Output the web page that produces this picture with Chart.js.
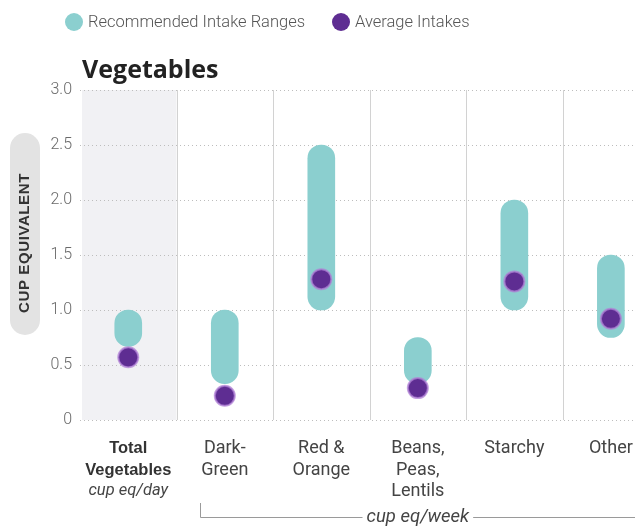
<!DOCTYPE html>
<html>
<head>
<meta charset="utf-8">
<script src="https://cdn.jsdelivr.net/npm/chart.js@4.4.1/dist/chart.umd.min.js"></script>
<style>
  html, body { margin: 0; padding: 0; background: #fff; overflow: hidden; }
  canvas { display: block; }
</style>
</head>
<body>
<canvas id="veg" width="635" height="529"></canvas>
<script>
// Vegetable subgroups: recommended ranges vs. average intakes
const categories = ['Total Vegetables', 'Dark-Green', 'Red & Orange', 'Beans, Peas, Lentils', 'Starchy', 'Other'];
const labelLines = [['Total', 'Vegetables'], ['Dark-', 'Green'], ['Red &', 'Orange'], ['Beans,', 'Peas,', 'Lentils'], ['Starchy'], ['Other']];
const rangeLow = [0.67, 0.33, 1.0, 0.33, 1.0, 0.75];
const rangeHigh = [1.0, 1.0, 2.5, 0.75, 2.0, 1.5];
const averageIntake = [0.57, 0.22, 1.28, 0.29, 1.26, 0.92];
const yTickValues = [0, 0.5, 1.0, 1.5, 2.0, 2.5, 3.0];
const dailyUnit = 'cup eq/day';
const weeklyUnit = 'cup eq/week';

const TEAL = '#8bcfcf';
const PURPLE = '#5e2d92';

// everything that isn't a data mark: band, pill label, separators, legend, x labels
const decor = {
  id: 'decor',
  beforeDraw(chart) {
    const { ctx, chartArea: a, scales: { x } } = chart;
    ctx.save();
    ctx.fillStyle = '#f1f1f4';
    const bandRight = x.getPixelForValue(0.5);
    ctx.fillRect(a.left + 2, a.top, bandRight - a.left - 2, a.bottom - a.top);

    // y axis title in a grey pill
    ctx.fillStyle = '#e3e3e3';
    ctx.beginPath();
    ctx.roundRect(10, 133, 30, 202, 15);
    ctx.fill();
    ctx.translate(25, 243);
    ctx.rotate(-Math.PI / 2);
    ctx.fillStyle = '#333';
    ctx.font = 'bold 15px "Liberation Sans", Arial, sans-serif';
    ctx.letterSpacing = '0.6px';
    ctx.textAlign = 'center';
    ctx.textBaseline = 'middle';
    ctx.fillText('CUP EQUIVALENT', 0, 0);
    ctx.restore();
  },
  beforeDatasetsDraw(chart) {
    const { ctx, chartArea: a, scales: { x } } = chart;
    ctx.save();
    ctx.strokeStyle = '#d2d2d2';
    ctx.lineWidth = 1;
    for (let i = 0; i < categories.length - 1; i++) {
      const px = Math.round(x.getPixelForValue(i + 0.5)) + 0.5;
      ctx.beginPath();
      ctx.moveTo(px, a.top);
      ctx.lineTo(px, a.bottom);
      ctx.stroke();
    }
    ctx.restore();
  },
  afterDraw(chart) {
    const { ctx, scales: { x } } = chart;
    ctx.save();

    // legend
    ctx.font = '300 16.5px Roboto, sans-serif';
    ctx.textBaseline = 'middle';
    ctx.textAlign = 'left';
    const items = [
      { text: chart.data.datasets[1].label, color: TEAL, x: 74 },
      { text: chart.data.datasets[0].label, color: PURPLE, x: 341 }
    ];
    items.forEach(it => {
      ctx.fillStyle = it.color;
      ctx.beginPath();
      ctx.arc(it.x, 22, 9, 0, Math.PI * 2);
      ctx.fill();
      ctx.fillStyle = '#555';
      ctx.fillText(it.text, it.x + 14, 23);
    });

    // chart heading
    ctx.font = 'bold 25px "Open Sans", sans-serif';
    ctx.fillStyle = '#222';
    ctx.textBaseline = 'alphabetic';
    ctx.fillText('Vegetables', 82, 78);

    // category labels
    ctx.textAlign = 'center';
    labelLines.forEach((lines, i) => {
      const cx = x.getPixelForValue(i);
      ctx.font = i === 0 ? 'bold 16.5px "Liberation Sans", Arial, sans-serif' : '18px Roboto, sans-serif';
      ctx.fillStyle = i === 0 ? '#333' : '#444';
      lines.forEach((t, j) => ctx.fillText(t, cx, 453 + j * 21.5));
    });
    ctx.font = 'italic 16.5px Roboto, sans-serif';
    ctx.fillStyle = '#444';
    ctx.fillText(dailyUnit, x.getPixelForValue(0), 495);

    // bracket over the weekly subgroups
    ctx.font = 'italic 18.5px Roboto, sans-serif';
    const wx = (x.getPixelForValue(1) + x.getPixelForValue(5)) / 2;
    const tw = ctx.measureText(weeklyUnit).width;
    ctx.fillText(weeklyUnit, wx, 522);
    ctx.strokeStyle = '#9a9a9a';
    ctx.lineWidth = 1;
    const left = Math.round(x.getPixelForValue(1) - 25) + 0.5;
    ctx.beginPath();
    ctx.moveTo(left, 503);
    ctx.lineTo(left, 517.5);
    ctx.lineTo(wx - tw / 2 - 4, 517.5);
    ctx.moveTo(wx + tw / 2 + 4, 517.5);
    ctx.lineTo(chart.width, 517.5);
    ctx.stroke();
    ctx.restore();
  }
};

new Chart(document.getElementById('veg').getContext('2d'), {
  type: 'bar',
  data: {
    datasets: [
      {
        type: 'scatter',
        label: 'Average Intakes',
        data: averageIntake.map((v, i) => ({ x: i, y: v })),
        backgroundColor: PURPLE,
        borderColor: 'rgba(176, 128, 214, 0.75)',
        borderWidth: 2,
        pointRadius: 10,
        order: 0
      },
      {
        label: 'Recommended Intake Ranges',
        data: rangeLow.map((lo, i) => ({ x: i, y: [lo, rangeHigh[i]] })),
        backgroundColor: TEAL,
        borderRadius: 14,
        borderSkipped: false,
        barThickness: 27,
        order: 1
      }
    ]
  },
  options: {
    responsive: false,
    animation: false,
    layout: { autoPadding: false, padding: { top: 90, bottom: 109, left: 0, right: 0 } },
    plugins: { legend: { display: false }, tooltip: { enabled: false } },
    scales: {
      x: {
        type: 'linear',
        display: false,
        offset: false,
        min: -0.5,
        max: 5.25
      },
      y: {
        min: 0,
        max: 3,
        afterFit(scale) { scale.width = 80; },
        afterBuildTicks(scale) { scale.ticks = yTickValues.map(v => ({ value: v })); },
        ticks: {
          padding: 8,
          color: '#6a6a6a',
          font: { family: 'Roboto', size: 16, weight: '300' },
          callback: v => (v === 0 ? '0' : v.toFixed(1))
        },
        grid: { color: '#bdbdbd', drawTicks: false, lineWidth: 1 },
        border: { display: false, dash: [1, 3] }
      }
    }
  },
  plugins: [decor]
});
</script>
</body>
</html>
